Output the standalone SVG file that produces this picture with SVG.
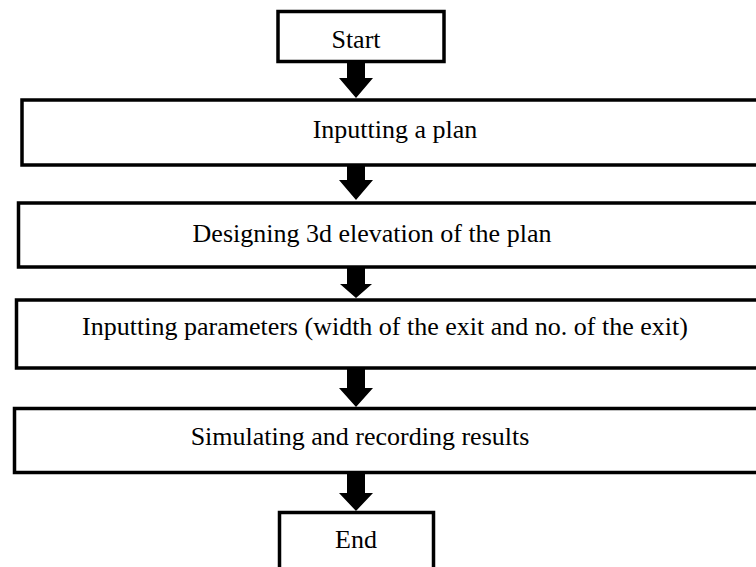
<svg xmlns="http://www.w3.org/2000/svg" width="756" height="567" viewBox="0 0 756 567">
<style>
.box{fill:#fff;stroke:#000;stroke-width:3.5}
.t{font-family:"Liberation Serif","Times New Roman",serif;font-size:26px;fill:#000;text-anchor:middle}
.arr{fill:#000}
</style>
<rect width="756" height="567" fill="#fff"/>
<g id="start"><rect class="box" x="278" y="11.5" width="166" height="50"/><text class="t" x="356" y="48">Start</text></g>
<g id="input-plan"><rect class="box" x="22" y="100" width="760" height="65"/><text class="t" x="395" y="138">Inputting a plan</text></g>
<g id="design"><rect class="box" x="18.5" y="203" width="760" height="64"/><text class="t" x="372" y="242">Designing 3d elevation of the plan</text></g>
<g id="params"><rect class="box" x="16.5" y="300" width="760" height="68"/><text class="t" x="385" y="335">Inputting parameters (width of the exit and no. of the exit)</text></g>
<g id="simulate"><rect class="box" x="14.5" y="408.5" width="760" height="64"/><text class="t" x="360" y="445">Simulating and recording results</text></g>
<g id="end"><rect class="box" x="279.5" y="512.5" width="154" height="70"/><text class="t" x="356" y="548">End</text></g>
<g id="connectors">
<polygon class="arr" points="347,63 365,63 365,78 373,78 356,98 339,78 347,78"/>
<polygon class="arr" points="347,166 365,166 365,180 373,180 356,200 339,180 347,180"/>
<polygon class="arr" points="347,268 365,268 365,284 372,284 356,298 340,284 347,284"/>
<polygon class="arr" points="347,369 365,369 365,388 373,388 356,407 339,388 347,388"/>
<polygon class="arr" points="347,473 365,473 365,493 373,493 356,511 339,493 347,493"/>
</g>
</svg>
